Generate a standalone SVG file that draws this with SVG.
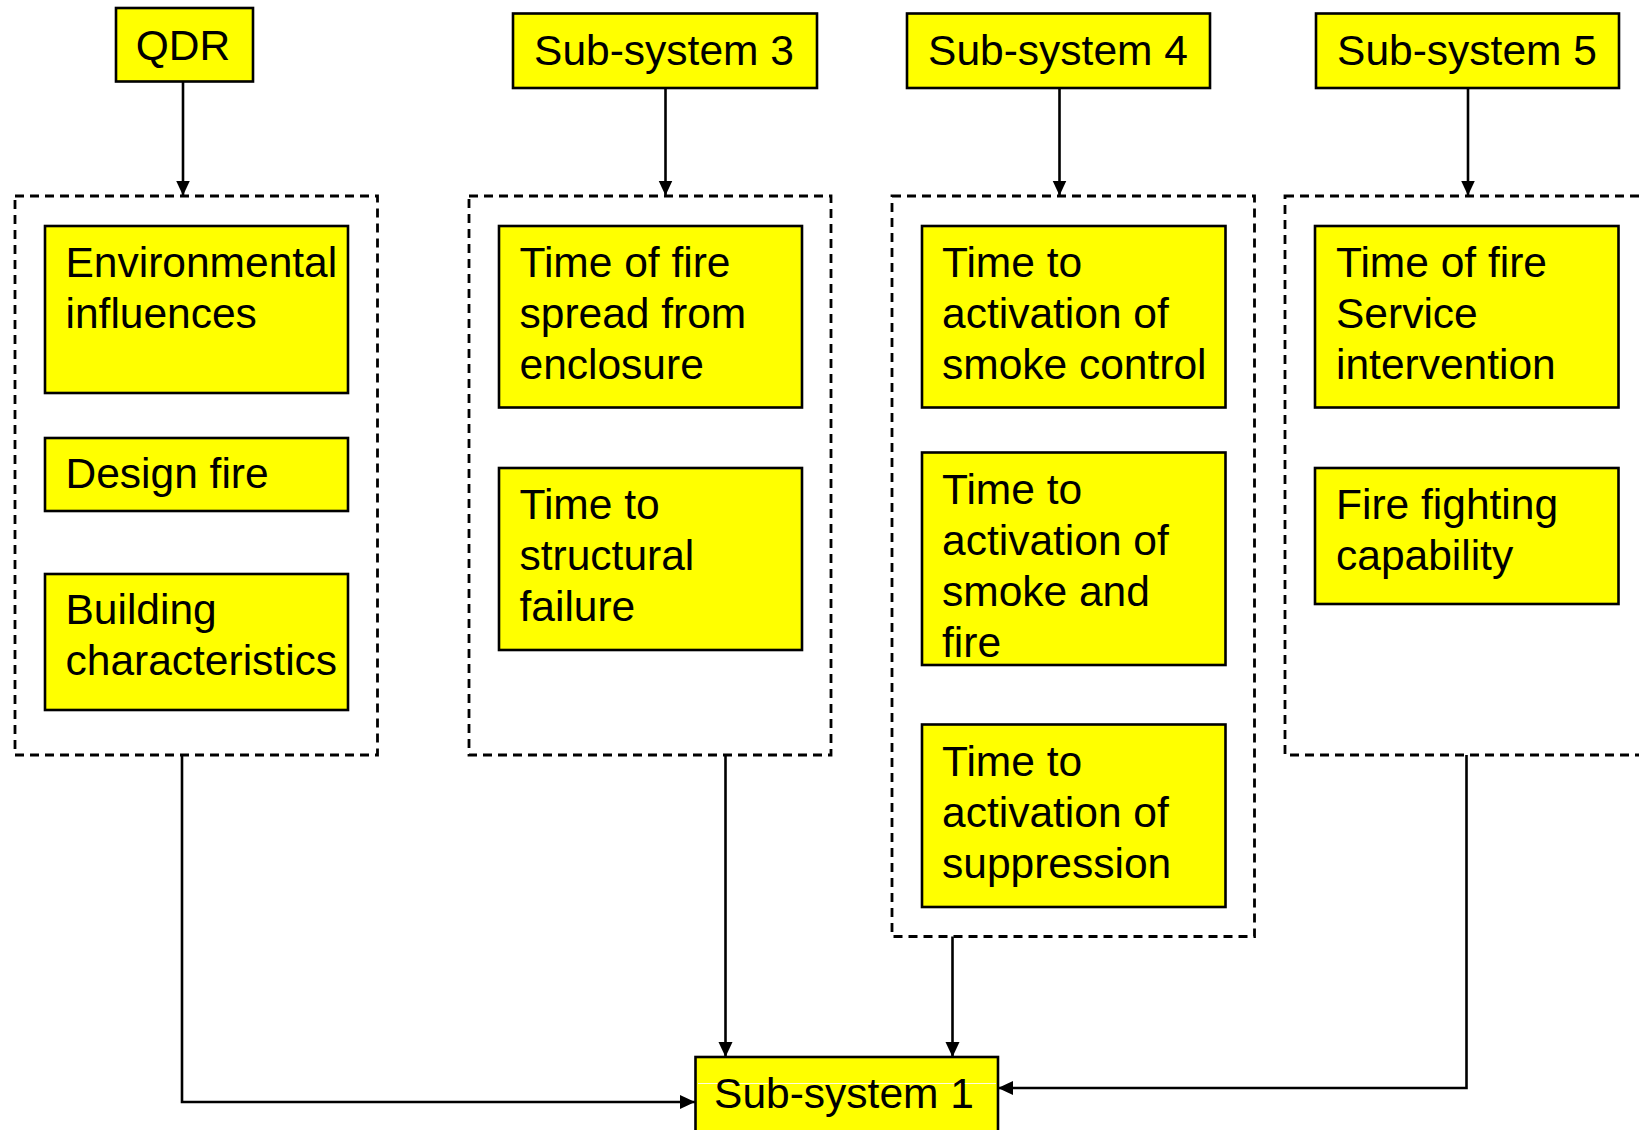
<svg xmlns="http://www.w3.org/2000/svg" width="1639" height="1130" viewBox="0 0 1639 1130">
  <style>
    .box { fill: #ffff00; stroke: #000; stroke-width: 2.6; }
    .group { fill: none; stroke: #000; stroke-width: 2.8; stroke-dasharray: 9 6; }
    .lbl { font-family: "Liberation Sans", Arial, sans-serif; font-size: 42.5px; fill: #000; }
    .mid { text-anchor: middle; }
    .wire { fill: none; stroke: #000; stroke-width: 2.6; }
    .arrow { marker-end: url(#head); }
  </style>
  <defs>
    <marker id="head" markerUnits="userSpaceOnUse" markerWidth="16" markerHeight="16" viewBox="0 0 16 16" refX="15" refY="8" orient="auto">
      <path d="M0,1 L15,8 L0,15 Z" fill="#000"/>
    </marker>
  </defs>
  <rect width="1639" height="1130" fill="#fff"/>

  <!-- dashed grouping frames -->
  <g id="frames">
    <rect class="group" x="15" y="196" width="362.5" height="559"/>
    <rect class="group" x="469" y="196" width="362" height="559"/>
    <rect class="group" x="892" y="196" width="362.5" height="740.5"/>
    <rect class="group" x="1285" y="196" width="380" height="559"/>
  </g>

  <!-- connectors -->
  <g id="connectors">
    <path class="wire arrow" d="M183,79 V195.5"/>
    <path class="wire arrow" d="M665.5,88 V195.5"/>
    <path class="wire arrow" d="M1059.5,88 V195.5"/>
    <path class="wire arrow" d="M1468,88 V195.5"/>
    <path class="wire arrow" d="M182,755 V1102 H695"/>
    <path class="wire arrow" d="M725.5,755 V1057"/>
    <path class="wire arrow" d="M952.5,936.5 V1057"/>
    <path class="wire arrow" d="M1466.5,755 V1088 H998"/>
  </g>

  <!-- header nodes -->
  <g id="qdr">
    <rect class="box" x="116" y="8" width="137" height="73.5"/>
    <text class="lbl mid" x="183" y="60">QDR</text>
  </g>
  <g id="subsystem3">
    <rect class="box" x="513" y="13.5" width="304" height="74.5"/>
    <text class="lbl mid" x="664" y="65">Sub-system 3</text>
  </g>
  <g id="subsystem4">
    <rect class="box" x="907" y="13.5" width="303" height="74.5"/>
    <text class="lbl mid" x="1058" y="65">Sub-system 4</text>
  </g>
  <g id="subsystem5">
    <rect class="box" x="1316" y="13.5" width="303" height="74.5"/>
    <text class="lbl mid" x="1467" y="65">Sub-system 5</text>
  </g>

  <!-- QDR inputs -->
  <g id="environmental">
    <rect class="box" x="45" y="226" width="303" height="167"/>
    <text class="lbl" x="65.5" y="277">Environmental</text>
    <text class="lbl" x="65.5" y="328">influences</text>
  </g>
  <g id="design-fire">
    <rect class="box" x="45" y="438" width="303" height="73"/>
    <text class="lbl" x="65.5" y="488">Design fire</text>
  </g>
  <g id="building">
    <rect class="box" x="45" y="574" width="303" height="136"/>
    <text class="lbl" x="65.5" y="624">Building</text>
    <text class="lbl" x="65.5" y="675">characteristics</text>
  </g>

  <!-- Sub-system 3 inputs -->
  <g id="fire-spread">
    <rect class="box" x="499" y="226" width="303" height="181.5"/>
    <text class="lbl" x="519.5" y="277">Time of fire</text>
    <text class="lbl" x="519.5" y="328">spread from</text>
    <text class="lbl" x="519.5" y="379">enclosure</text>
  </g>
  <g id="structural-failure">
    <rect class="box" x="499" y="468" width="303" height="182"/>
    <text class="lbl" x="519.5" y="519">Time to</text>
    <text class="lbl" x="519.5" y="570">structural</text>
    <text class="lbl" x="519.5" y="621">failure</text>
  </g>

  <!-- Sub-system 4 inputs -->
  <g id="smoke-control">
    <rect class="box" x="922" y="226" width="303.5" height="181.5"/>
    <text class="lbl" x="942" y="277">Time to</text>
    <text class="lbl" x="942" y="328">activation of</text>
    <text class="lbl" x="942" y="379">smoke control</text>
  </g>
  <g id="smoke-fire">
    <rect class="box" x="922" y="452.5" width="303.5" height="212.5"/>
    <text class="lbl" x="942" y="503.5">Time to</text>
    <text class="lbl" x="942" y="554.5">activation of</text>
    <text class="lbl" x="942" y="605.5">smoke and</text>
    <text class="lbl" x="942" y="656.5">fire</text>
  </g>
  <g id="suppression">
    <rect class="box" x="922" y="724.5" width="303.5" height="182.5"/>
    <text class="lbl" x="942" y="775.5">Time to</text>
    <text class="lbl" x="942" y="826.5">activation of</text>
    <text class="lbl" x="942" y="877.5">suppression</text>
  </g>

  <!-- Sub-system 5 inputs -->
  <g id="fire-service">
    <rect class="box" x="1315" y="226" width="303.5" height="181.5"/>
    <text class="lbl" x="1336" y="277">Time of fire</text>
    <text class="lbl" x="1336" y="328">Service</text>
    <text class="lbl" x="1336" y="379">intervention</text>
  </g>
  <g id="fire-fighting">
    <rect class="box" x="1315" y="468" width="303.5" height="136"/>
    <text class="lbl" x="1336" y="519">Fire fighting</text>
    <text class="lbl" x="1336" y="570">capability</text>
  </g>

  <!-- target node -->
  <g id="subsystem1">
    <rect class="box" x="695.5" y="1057" width="302.5" height="85"/>
    <line x1="698" y1="1083.5" x2="996" y2="1083.5" stroke="#fffbe0" stroke-width="1"/>
    <text class="lbl mid" x="844" y="1108">Sub-system 1</text>
  </g>
</svg>
